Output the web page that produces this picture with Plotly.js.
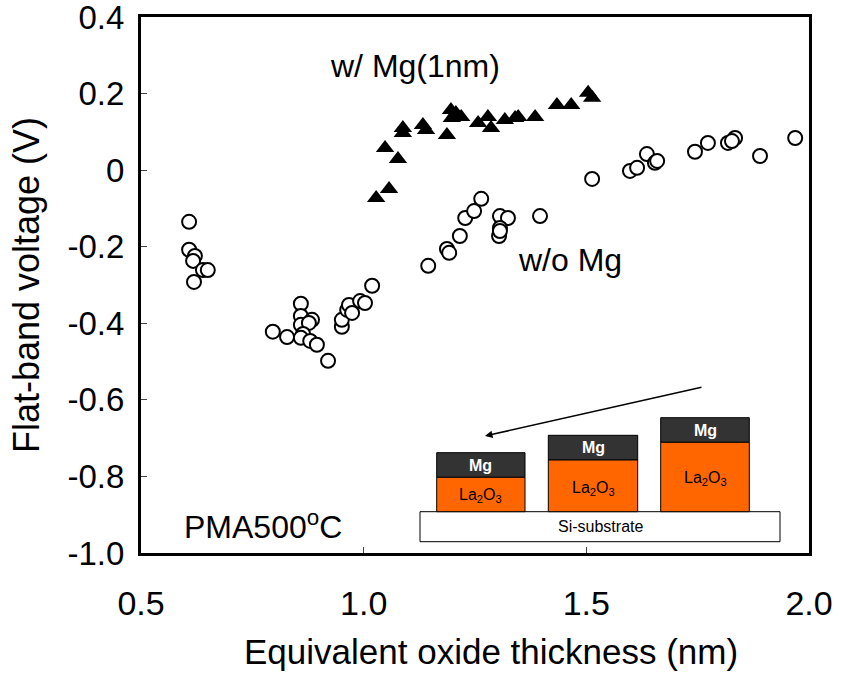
<!DOCTYPE html>
<html>
<head>
<meta charset="utf-8">
<script src="https://cdn.plot.ly/plotly-3.0.1.min.js"></script>
<style>html,body{margin:0;padding:0;background:#fff;}#chart{width:843px;height:673px;}</style>
</head>
<body>
<div id="chart"></div>
<script>
// w/o Mg (open circles)
const eotNoMg = [0.608,0.608,0.621,0.617,0.639,0.650,0.619,0.796,0.828,0.859,0.859,0.859,0.884,0.877,0.864,0.859,0.880,0.895,0.920,0.951,0.951,0.963,0.967,0.974,0.992,1.003,1.019,1.145,1.187,1.192,1.216,1.228,1.248,1.264,1.306,1.324,1.306,1.304,1.306,1.396,1.513,1.598,1.614,1.636,1.654,1.659,1.744,1.773,1.818,1.834,1.827,1.890,1.969];
const vfbNoMg = [-0.135,-0.208,-0.224,-0.237,-0.261,-0.261,-0.292,-0.422,-0.436,-0.349,-0.381,-0.404,-0.391,-0.399,-0.428,-0.438,-0.446,-0.456,-0.498,-0.409,-0.391,-0.365,-0.352,-0.373,-0.342,-0.347,-0.302,-0.250,-0.206,-0.216,-0.172,-0.125,-0.107,-0.075,-0.120,-0.125,-0.151,-0.172,-0.159,-0.120,-0.023,-0.002,0.006,0.042,0.019,0.024,0.048,0.071,0.071,0.084,0.076,0.037,0.084];
// w/ Mg(1nm) (filled triangles)
const eotMg = [1.028,1.057,1.048,1.077,1.088,1.088,1.133,1.140,1.187,1.196,1.198,1.207,1.219,1.257,1.279,1.286,1.317,1.340,1.347,1.385,1.434,1.466,1.504,1.513];
const vfbMg = [-0.073,-0.049,0.058,0.029,0.110,0.097,0.118,0.105,0.092,0.157,0.136,0.149,0.139,0.123,0.139,0.110,0.131,0.136,0.139,0.139,0.170,0.170,0.202,0.189];

const xTicks = [0.5,1.0,1.5,2.0];
const xTickText = ['0.5','1.0','1.5','2.0'];
const yTicks = [0.4,0.2,0,-0.2,-0.4,-0.6,-0.8,-1.0];
const yTickText = ['0.4','0.2','0','-0.2','-0.4','-0.6','-0.8','-1.0'];
const xTitle = 'Equivalent oxide thickness (nm)';
const yTitle = 'Flat-band voltage (V)';

const W = 843, H = 673;
const M = {l:141, r:34, t:17, b:120};
const PW = W - M.l - M.r, PH = H - M.t - M.b;
const PX = p => (p - M.l) / PW;
const PY = p => (H - M.b - p) / PH;
const FONT = 'Liberation Sans, Arial, sans-serif';

const traces = [
  {x: eotNoMg, y: vfbNoMg, type:'scatter', mode:'markers', name:'w/o Mg',
   marker:{symbol:'circle', size:14, color:'#ffffff', line:{color:'#000000', width:2}}},
  {x: eotMg, y: vfbMg, type:'scatter', mode:'markers', name:'w/ Mg(1nm)',
   marker:{symbol:'triangle-up', size:16, color:'#000000', line:{color:'#000000', width:0}}}
];

// inset diagram
const stacks = [
  {l:436.7, r:525, top:452.7, mid:477.3, bot:511.7, laY:495},
  {l:548.3, r:637.7, top:435.3, mid:460, bot:511.7, laY:488},
  {l:660.7, r:749.3, top:417.7, mid:442.3, bot:511.7, laY:478}
];
const shapes = [];
const annotations = [];
const txt = (px, py, text, size, color, xanchor) => ({xref:'paper', yref:'paper', x:PX(px), y:PY(py), text:text,
  xanchor:xanchor || 'center', yanchor:'middle', showarrow:false, font:{family:FONT, size:size, color:color}});
shapes.push({type:'rect', xref:'paper', yref:'paper', x0:PX(420), x1:PX(780), y0:PY(541.7), y1:PY(511.7),
  fillcolor:'#ffffff', line:{color:'#000000', width:1}});
stacks.forEach(s => {
  shapes.push({type:'rect', xref:'paper', yref:'paper', x0:PX(s.l), x1:PX(s.r), y0:PY(s.mid), y1:PY(s.top),
    fillcolor:'#333333', line:{color:'#000000', width:1}});
  shapes.push({type:'rect', xref:'paper', yref:'paper', x0:PX(s.l), x1:PX(s.r), y0:PY(s.bot), y1:PY(s.mid),
    fillcolor:'#ff6600', line:{color:'#000000', width:1}});
  annotations.push(txt((s.l+s.r)/2, (s.top+s.mid)/2, '<b>Mg</b>', 16, '#ffffff'));
  annotations.push(txt((s.l+s.r)/2, s.laY, 'La<sub>2</sub>O<sub>3</sub>', 16, '#000000'));
});
annotations.push(txt(600, 526.7, 'Si-substrate', 16, '#000000'));
annotations.push({xref:'paper', yref:'paper', x:PX(485), y:PY(436), text:'', showarrow:true,
  ax:218, ay:-49, arrowhead:2, arrowsize:1, arrowwidth:1.5, arrowcolor:'#000000'});

annotations.push(txt(415, 66, 'w/ Mg(1nm)', 32, '#000000'));
annotations.push(txt(570, 260, 'w/o Mg', 32, '#000000'));
annotations.push(txt(182, 525, 'PMA500<sup>o</sup>C', 32, '#000000', 'left'));
// x-axis title (placed slightly right of the plot centre as in the reference)
annotations.push(txt(491, 651, xTitle, 35, '#000000'));

const layout = {
  width:W, height:H,
  margin:M,
  paper_bgcolor:'#ffffff', plot_bgcolor:'#ffffff',
  showlegend:false,
  font:{family:FONT, color:'#000000'},
  xaxis:{range:[0.5,2.0], tickvals:xTicks, ticktext:xTickText, ticks:'inside', ticklen:6, tickwidth:1, tickcolor:'#444',
    showgrid:false, zeroline:false, showline:true, linewidth:3, linecolor:'#000', mirror:true,
    tickfont:{family:FONT, size:34, color:'#000'}, ticklabelstandoff:18, ticklabeloverflow:'allow'},
  yaxis:{range:[-1.0,0.4], tickvals:yTicks, ticktext:yTickText, ticks:'inside', ticklen:6, tickwidth:1, tickcolor:'#444',
    showgrid:false, zeroline:false, showline:true, linewidth:3, linecolor:'#000', mirror:true,
    tickfont:{family:FONT, size:33, color:'#000'}, ticklabelstandoff:7, ticklabeloverflow:'allow',
    title:{text:yTitle, font:{family:FONT, size:36, color:'#000'}, standoff:17}},
  shapes:shapes,
  annotations:annotations
};
Plotly.newPlot('chart', traces, layout, {staticPlot:true, displayModeBar:false});
</script>
</body>
</html>
